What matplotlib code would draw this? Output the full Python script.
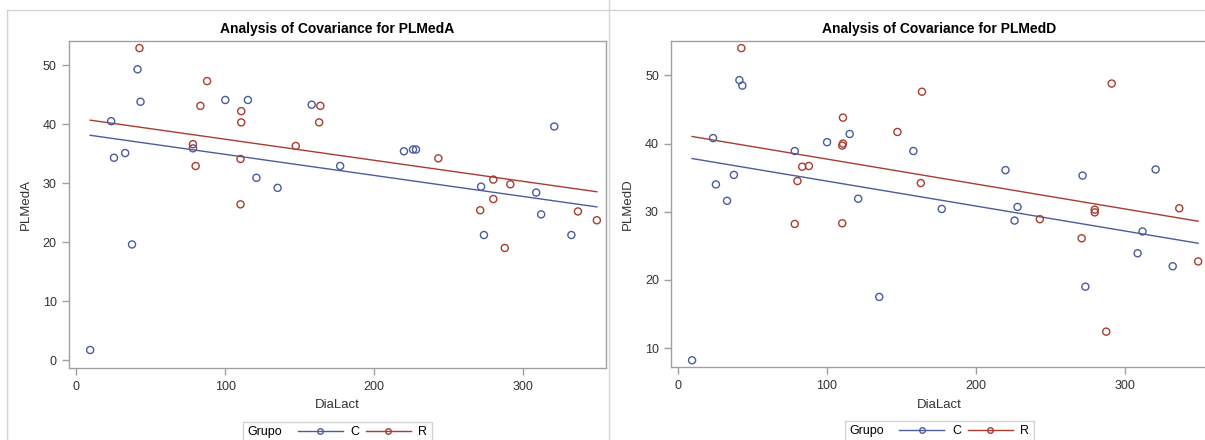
import numpy as np
import matplotlib
matplotlib.use("Agg")
import matplotlib.pyplot as plt
from matplotlib.lines import Line2D
from matplotlib.offsetbox import HPacker

plt.rcParams['font.family'] = ['Liberation Sans', 'DejaVu Sans']

# DiaLact per group (shared by both panels)
x_c = [9.3, 23.4, 25.3, 32.8, 37.4, 41.1, 43.1, 78.3, 100, 115.2, 120.9, 135.1,
       158, 177.1, 219.9, 226, 228, 271.7, 273.6, 308.7, 312, 320.8, 332.3]
x_r = [42.4, 78.3, 80.1, 83.3, 87.8, 110.7, 110.7, 110.2, 110.2, 147.3, 163.8,
       163, 243, 271.1, 279.9, 279.9, 287.6, 291.3, 336.7, 349.4]

# PLMedA
plmeda_c = [1.7, 40.5, 34.3, 35.1, 19.6, 49.3, 43.8, 35.9, 44.1, 44.1, 30.9, 29.2,
            43.3, 32.9, 35.4, 35.7, 35.7, 29.4, 21.2, 28.4, 24.7, 39.6, 21.2]
plmeda_r = [52.9, 36.6, 32.9, 43.1, 47.3, 42.2, 40.3, 34.1, 26.4, 36.3, 43.1,
            40.3, 34.2, 25.4, 30.6, 27.3, 19.0, 29.8, 25.2, 23.7]

# PLMedD
plmedd_c = [8.2, 40.8, 34.0, 31.6, 35.4, 49.3, 48.5, 38.9, 40.2, 41.4, 31.9, 17.5,
            38.9, 30.4, 36.1, 28.7, 30.7, 35.3, 19.0, 23.9, 27.1, 36.2, 22.0]
plmedd_r = [54.0, 28.2, 34.5, 36.6, 36.7, 43.8, 40.0, 39.7, 28.3, 41.7, 47.6,
            34.2, 28.9, 26.1, 30.3, 29.9, 12.4, 48.8, 30.5, 22.7]

groups = ['C', 'R']
blue = '#4a5c9c'
red = '#a83c30'
grey = '#a0a0a0'
txt = '#333333'


def ancova_lines(xc, yc, xr, yr):
    # common slope, separate intercepts
    x = np.concatenate([xc, xr])
    y = np.concatenate([yc, yr])
    g = np.concatenate([np.zeros(len(xc)), np.ones(len(xr))])
    A = np.column_stack([np.ones_like(x), g, x])
    b = np.linalg.lstsq(A, y, rcond=None)[0]
    xs = np.array([x.min(), x.max()])
    return xs, b[0] + b[2] * xs, b[0] + b[1] + b[2] * xs


fig = plt.figure(figsize=(12.05, 4.4), dpi=100)

# panel borders
fig.add_artist(Line2D([7.5 / 1205, 1], [1 - 10.5 / 440] * 2, color='#d4d4d4', lw=1))
fig.add_artist(Line2D([7.5 / 1205] * 2, [0, 1 - 10.5 / 440], color='#d4d4d4', lw=1))
fig.add_artist(Line2D([609 / 1205] * 2, [0, 1], color='#d4d4d4', lw=1))

panels = [
    ([69.3 / 1205, 1 - 368 / 440, 536.5 / 1205, 327 / 440], plmeda_c, plmeda_r,
     'PLMedA', (-4.7, 355.4), (-1.35, 54.1), [0, 10, 20, 30, 40, 50]),
    ([671.4 / 1205, 1 - 367.3 / 440, 536 / 1205, 326 / 440], plmedd_c, plmedd_r,
     'PLMedD', (-4.6, 355.6), (7.17, 55.0), [10, 20, 30, 40, 50]),
]

for i, (rect, yc, yr, name, xlim, ylim, yt) in enumerate(panels):
    ax = fig.add_axes(rect)
    xs, lc, lr = ancova_lines(x_c, yc, x_r, yr)
    ax.plot(xs, lc, color=blue, lw=1)
    ax.plot(xs, lr, color=red, lw=1)
    ax.scatter(x_c, yc, s=26, facecolors='none', edgecolors=blue, linewidths=1, zorder=3)
    ax.scatter(x_r, yr, s=26, facecolors='none', edgecolors=red, linewidths=1, zorder=3)
    ax.set_xlim(*xlim)
    ax.set_ylim(*ylim)
    ax.set_xticks([0, 100, 200, 300])
    ax.set_yticks(yt)
    for s in ax.spines.values():
        s.set_color(grey)
        s.set_linewidth(1)
    if i == 1:
        # screenshot cuts the right panel before its frame
        ax.spines['right'].set_visible(False)
    ax.tick_params(colors=grey, labelcolor=txt, labelsize=9, length=5, width=1, pad=4)
    ax.set_xlabel('DiaLact', fontsize=9.5, color=txt, labelpad=5)
    ax.set_ylabel(name, fontsize=9.5, color=txt, labelpad=8)
    ax.set_title('Analysis of Covariance for ' + name, fontsize=10, fontweight='bold', pad=6)

    handles = [Line2D([], [], color=blue, lw=1, marker='o', markersize=4,
                      markerfacecolor='none', markeredgewidth=1),
               Line2D([], [], color=red, lw=1, marker='o', markersize=4,
                      markerfacecolor='none', markeredgewidth=1)]
    leg = ax.legend(handles, groups, title='Grupo', ncol=2, loc='upper center',
                    bbox_to_anchor=(0.5, -0.165), fontsize=9, title_fontsize=9,
                    frameon=True, fancybox=False, edgecolor='#c8c8c8',
                    handlelength=3.6, handletextpad=0.6, columnspacing=0.55,
                    borderpad=0.25, borderaxespad=0)
    leg.get_frame().set_linewidth(1)
    # put the title on the left of the entries, like SAS does
    box = HPacker(pad=0.25 * 12.5, sep=11,
                  align='center', children=[leg._legend_title_box, leg._legend_handle_box])
    box.set_figure(fig)
    box.axes = ax
    box.set_offset(leg._findoffset)
    leg._legend_box = box

fig.savefig('out.png', dpi=100)
